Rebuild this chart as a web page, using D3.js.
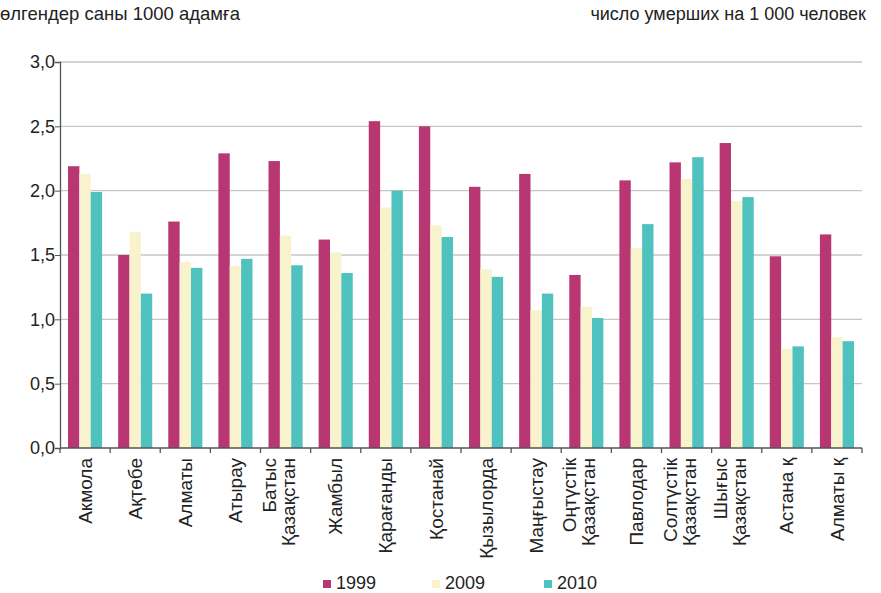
<!DOCTYPE html>
<html>
<head>
<meta charset="utf-8">
<script src="https://cdn.jsdelivr.net/npm/d3@7"></script>
<style>
  body { margin: 0; background: #fff; }
  svg { font-family: "Liberation Sans", Arial, sans-serif; }
</style>
</head>
<body>
<div id="chart"></div>
<script>
// regions (two-line labels split with \n)
const regions = ["Акмола", "Ақтөбе", "Алматы", "Атырау", "Батыс\nҚазақстан", "Жамбыл",
  "Қарағанды", "Қостанай", "Қызылорда", "Маңғыстау", "Оңтүстік\nҚазақстан", "Павлодар",
  "Солтүстік\nҚазақстан", "Шығыс\nҚазақстан", "Астана қ", "Алматы қ"];
const years = ["1999", "2009", "2010"];
const values1999 = [2.19, 1.50, 1.76, 2.29, 2.23, 1.62, 2.54, 2.50, 2.03, 2.13, 1.345, 2.08, 2.22, 2.37, 1.49, 1.66];
const values2009 = [2.13, 1.68, 1.445, 1.415, 1.65, 1.52, 1.87, 1.73, 1.39, 1.07, 1.10, 1.555, 2.09, 1.92, 0.77, 0.86];
const values2010 = [1.99, 1.20, 1.40, 1.47, 1.42, 1.36, 2.00, 1.64, 1.33, 1.20, 1.01, 1.74, 2.26, 1.95, 0.79, 0.83];
const yTicks = [0, 0.5, 1, 1.5, 2, 2.5, 3];
const colors = ["#b83672", "#f8f2cd", "#4fc1bf"];

const width = 881, height = 593;
const margin = {top: 62, right: 19, bottom: 145, left: 60};
const innerW = width - margin.left - margin.right;
const innerH = height - margin.top - margin.bottom;

const svg = d3.select("#chart").append("svg")
  .attr("width", width)
  .attr("height", height);

// header texts
svg.append("text").attr("x", 0).attr("y", 20)
  .style("font-size", "18.5px").attr("fill", "#222")
  .text("өлгендер саны 1000 адамға");
svg.append("text").attr("x", 866).attr("y", 20)
  .attr("text-anchor", "end")
  .style("font-size", "18px").attr("fill", "#222")
  .text("число умерших на 1 000 человек");

const g = svg.append("g").attr("transform", `translate(${margin.left},${margin.top})`);

const x = d3.scaleBand().domain(regions).range([0, innerW]).paddingInner(0.32).paddingOuter(0.16);
const xs = d3.scaleBand().domain(years).range([0, x.bandwidth()]);
const y = d3.scaleLinear().domain([0, 3]).range([innerH, 0]);

// gridlines
g.append("g").selectAll("line")
  .data(yTicks.filter(d => d > 0))
  .join("line")
  .attr("x1", 0).attr("x2", innerW)
  .attr("y1", d => y(d)).attr("y2", d => y(d))
  .attr("stroke", "#c6c6c6").attr("stroke-width", 1.3);

// bars
const series = [values1999, values2009, values2010];
const groups = g.append("g").selectAll("g")
  .data(regions)
  .join("g")
  .attr("transform", d => `translate(${x(d)},0)`);

groups.selectAll("rect")
  .data((d, i) => years.map((yr, k) => ({yr, v: series[k][i], k})))
  .join("rect")
  .attr("x", d => xs(d.yr))
  .attr("width", xs.bandwidth())
  .attr("y", d => y(d.v))
  .attr("height", d => innerH - y(d.v))
  .attr("fill", d => colors[d.k]);

// y axis
const yAxis = g.append("g")
  .call(d3.axisLeft(y).tickValues(yTicks).tickSize(5).tickFormat(d => d3.format(".1f")(d).replace(".", ",")));
yAxis.select(".domain").attr("stroke", "#555").attr("stroke-width", 1.3);
yAxis.selectAll(".tick line").attr("stroke", "#555");
yAxis.selectAll(".tick text").style("font-size", "18px").attr("fill", "#222").attr("x", -5);

// x axis with ticks at band boundaries
const xAxis = g.append("g").attr("transform", `translate(0,${innerH})`);
xAxis.append("line").attr("x1", 0).attr("x2", innerW).attr("stroke", "#555").attr("stroke-width", 1.3);
const step = x.step();
xAxis.selectAll(".xt")
  .data(d3.range(regions.length + 1))
  .join("line")
  .attr("class", "xt")
  .attr("x1", d => d * step).attr("x2", d => d * step)
  .attr("y1", 0).attr("y2", 5)
  .attr("stroke", "#555").attr("stroke-width", 1.3);

const lineH = 19;
const labels = xAxis.selectAll(".xl")
  .data(regions)
  .join("text")
  .attr("class", "xl")
  .attr("text-anchor", "end")
  .attr("transform", d => `translate(${x(d) + x.bandwidth() / 2},10) rotate(-90)`)
  .style("font-size", "19px").attr("fill", "#222");
labels.each(function(d) {
  const parts = d.split("\n");
  const t = d3.select(this);
  parts.forEach((p, i) => {
    t.append("tspan").attr("x", 0)
      .attr("y", parts.length > 1 ? (i - 0.5) * lineH - 7 : 0)
      .attr("dy", "0.35em")
      .text(p);
  });
});

// legend
const legendX = [323, 432, 544];
const legend = svg.append("g").selectAll("g")
  .data(years)
  .join("g")
  .attr("transform", (d, i) => `translate(${legendX[i]},580)`);
legend.append("rect").attr("width", 8).attr("height", 8).attr("fill", (d, i) => colors[i]);
legend.append("text").attr("x", 13).attr("y", 9)
  .style("font-size", "18px").attr("fill", "#222").text(d => d);
</script>
</body>
</html>
